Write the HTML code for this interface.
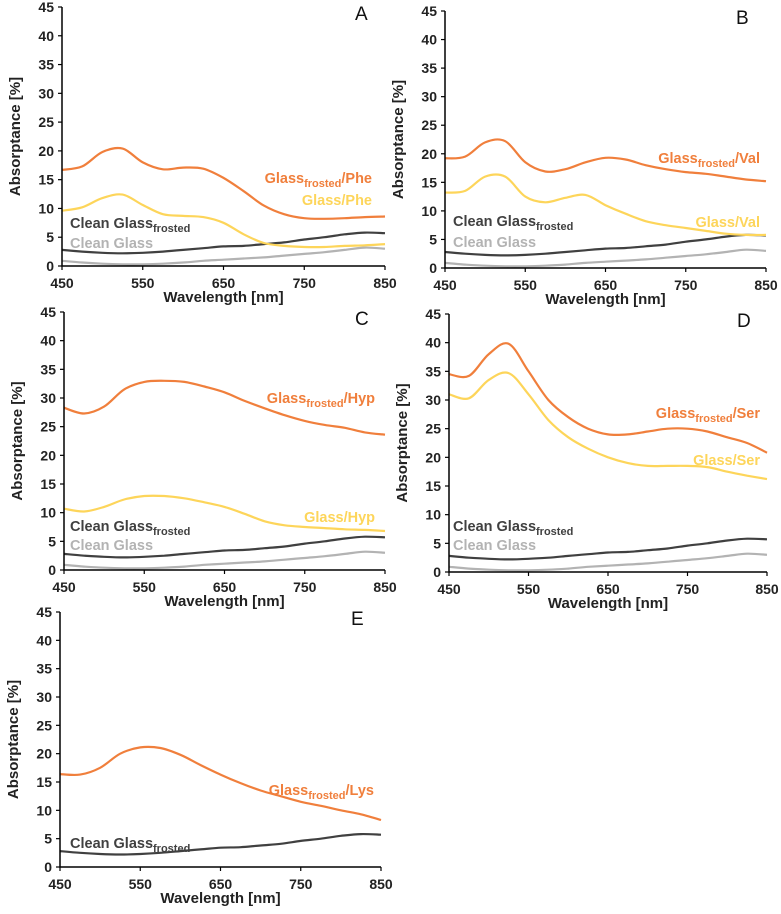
<!DOCTYPE html>
<html><head><meta charset="utf-8"><style>
html,body{margin:0;padding:0;background:#fff;}
svg{display:block;font-family:"Liberation Sans",sans-serif;}
</style></head><body>
<svg id="fig" width="781" height="914" viewBox="0 0 781 914" xmlns="http://www.w3.org/2000/svg"></svg>
<script>
const wavelengths=[450,475,500,525,550,575,600,625,650,675,700,725,750,775,800,825,850];
const xTicks=[450,550,650,750,850];
const yTicks=[0,5,10,15,20,25,30,35,40,45];
const cleanFrosted=[2.8,2.5,2.3,2.2,2.3,2.5,2.8,3.1,3.4,3.5,3.8,4.1,4.6,5.0,5.5,5.8,5.7];
const cleanGlass=[0.9,0.6,0.4,0.3,0.3,0.4,0.6,0.9,1.1,1.3,1.5,1.8,2.1,2.4,2.8,3.2,3.0];
const phFrost=[16.7,17.3,19.8,20.4,18.0,16.8,17.1,16.9,15.3,13.0,10.5,9.0,8.3,8.2,8.3,8.5,8.6];
const phGlass=[9.6,10.2,11.8,12.4,10.6,9.0,8.7,8.5,7.5,5.5,4.0,3.5,3.3,3.3,3.5,3.6,3.8];
const valFrost=[19.2,19.5,22.0,22.2,18.5,16.9,17.3,18.5,19.3,19.0,18.0,17.3,16.8,16.5,16.0,15.5,15.2];
const valGlass=[13.2,13.5,16.0,16.0,12.5,11.5,12.3,12.8,11.0,9.5,8.2,7.5,7.0,6.5,6.0,5.8,5.8];
const hypFrost=[28.3,27.3,28.5,31.5,32.8,33.0,32.8,32.0,31.0,29.5,28.2,27.0,26.0,25.3,24.8,24.0,23.6];
const hypGlass=[10.7,10.2,11.0,12.3,12.9,12.9,12.5,11.8,11.0,9.8,8.5,7.8,7.5,7.3,7.1,7.0,6.8];
const serFrost=[34.5,34.2,38.0,39.8,35.0,30.0,27.0,25.0,24.0,24.0,24.5,25.0,25.0,24.5,23.5,22.5,20.8];
const serGlass=[31.0,30.3,33.5,34.7,31.0,26.5,23.5,21.5,20.0,19.0,18.5,18.5,18.5,18.3,17.5,16.8,16.2];
const lysFrost=[16.4,16.3,17.5,20.0,21.1,21.0,19.8,18.0,16.3,14.8,13.5,12.5,11.5,10.8,10.0,9.3,8.3];

const NS="http://www.w3.org/2000/svg";
const svg=document.getElementById('fig');
function el(tag,attrs,parent){const e=document.createElementNS(NS,tag);for(const k in attrs)e.setAttribute(k,attrs[k]);(parent||svg).appendChild(e);return e;}
const ORANGE="#f07f3c",YELLOW="#fdd55a",DARK="#404040",GREY="#b3b3b3";

function smoothPath(pts){
  let d="M"+pts[0][0].toFixed(1)+","+pts[0][1].toFixed(1);
  for(let i=0;i<pts.length-1;i++){
    const p0=pts[Math.max(0,i-1)],p1=pts[i],p2=pts[i+1],p3=pts[Math.min(pts.length-1,i+2)];
    const c1=[p1[0]+(p2[0]-p0[0])/6,p1[1]+(p2[1]-p0[1])/6];
    const c2=[p2[0]-(p3[0]-p1[0])/6,p2[1]-(p3[1]-p1[1])/6];
    d+=" C"+c1[0].toFixed(1)+","+c1[1].toFixed(1)+" "+c2[0].toFixed(1)+","+c2[1].toFixed(1)+" "+p2[0].toFixed(1)+","+p2[1].toFixed(1);
  }
  return d;
}

function panel(p){
  const g=el('g',{});
  
  
  const xs=v=>p.x0+(v-450)/400*(p.x1-p.x0);
  const ys=v=>p.y0-(v/45)*(p.y0-p.y1);
  p.series.forEach(s=>{
    const pts=wavelengths.map((w,i)=>[xs(w),ys(s.values[i])]);
    const path=el('path',{d:smoothPath(pts),fill:'none',stroke:s.color,'stroke-width':2.2,'stroke-linejoin':'round'},g);
    
    
  });
  const ax=el('path',{d:`M${p.x0},${p.y1} L${p.x0},${p.y0} L${p.x1},${p.y0}`,fill:'none',stroke:'#000','stroke-width':1.5},g);
  
  
  yTicks.forEach(t=>{
    el('line',{x1:p.x0-4,x2:p.x0,y1:ys(t),y2:ys(t),stroke:'#000','stroke-width':1.2},g);
    const tx=el('text',{x:p.x0-8,y:ys(t)+5,'text-anchor':'end','font-size':14,'font-weight':'bold',fill:'#222'},g);
    tx.textContent=t;
    
    
  });
  xTicks.forEach(t=>{
    el('line',{x1:xs(t),x2:xs(t),y1:p.y0,y2:p.y0+4,stroke:'#000','stroke-width':1.2},g);
    const tx=el('text',{x:xs(t),y:p.y0+22,'text-anchor':'middle','font-size':14,'font-weight':'bold',fill:'#222'},g);
    tx.textContent=t;
    
    
  });
  const xt=el('text',{x:(p.x0+p.x1)/2,y:p.y0+36,'text-anchor':'middle','font-size':15,'font-weight':'bold',fill:'#222'},g);
  xt.textContent='Wavelength [nm]';
  
  
  const cy=(p.y0+p.y1)/2;
  const yt=el('text',{x:p.x0-42,y:cy,'text-anchor':'middle','font-size':15,'font-weight':'bold',fill:'#222',transform:`rotate(-90 ${p.x0-42} ${cy})`},g);
  yt.textContent='Absorptance [%]';
  
  
  const lt=el('text',{x:p.x1-30,y:p.y1+13,'font-size':19,fill:'#111'},g);
  lt.textContent=p.letter;
  
  
  p.labels.forEach(l=>{
    const t=el('text',{x:l.x,y:l.y,'text-anchor':l.anchor||'start','font-size':14.5,'font-weight':'bold',fill:l.color},g);
    
    
    const a=el('tspan',{},t);a.textContent=l.main;
    if(l.sub){const b=el('tspan',{dy:4,'font-size':11},t);b.textContent=l.sub;}
    if(l.tail){const c=el('tspan',{dy:-4},t);c.textContent=l.tail;}
  });
}
function cleanLabels(x,y1,y2){
  const arr=[{name:'label-clean-glass-frosted',x:x,y:y1,color:DARK,main:'Clean Glass',sub:'frosted'}];
  if(y2)arr.push({name:'label-clean-glass',x:x,y:y2,color:GREY,main:'Clean Glass'});
  return arr;
}
panel({letter:'A',x0:62,x1:385,y0:266,y1:7,
  series:[{name:'clean-glass-line',values:cleanGlass,color:GREY},{name:'clean-glass-frosted-line',values:cleanFrosted,color:DARK},{name:'glass-phe-line',values:phGlass,color:YELLOW},{name:'glass-frosted-phe-line',values:phFrost,color:ORANGE}],
  labels:[{name:'label-glass-frosted-phe',x:372,y:183,anchor:'end',color:ORANGE,main:'Glass',sub:'frosted',tail:'/Phe'},{name:'label-glass-phe',x:372,y:205,anchor:'end',color:YELLOW,main:'Glass/Phe'}].concat(cleanLabels(70,228,248))});
panel({letter:'B',x0:445,x1:766,y0:268,y1:11,
  series:[{name:'clean-glass-line',values:cleanGlass,color:GREY},{name:'clean-glass-frosted-line',values:cleanFrosted,color:DARK},{name:'glass-val-line',values:valGlass,color:YELLOW},{name:'glass-frosted-val-line',values:valFrost,color:ORANGE}],
  labels:[{name:'label-glass-frosted-val',x:760,y:163,anchor:'end',color:ORANGE,main:'Glass',sub:'frosted',tail:'/Val'},{name:'label-glass-val',x:760,y:227,anchor:'end',color:YELLOW,main:'Glass/Val'}].concat(cleanLabels(453,226,247))});
panel({letter:'C',x0:64,x1:385,y0:570,y1:312,
  series:[{name:'clean-glass-line',values:cleanGlass,color:GREY},{name:'clean-glass-frosted-line',values:cleanFrosted,color:DARK},{name:'glass-hyp-line',values:hypGlass,color:YELLOW},{name:'glass-frosted-hyp-line',values:hypFrost,color:ORANGE}],
  labels:[{name:'label-glass-frosted-hyp',x:375,y:403,anchor:'end',color:ORANGE,main:'Glass',sub:'frosted',tail:'/Hyp'},{name:'label-glass-hyp',x:375,y:522,anchor:'end',color:YELLOW,main:'Glass/Hyp'}].concat(cleanLabels(70,531,550))});
panel({letter:'D',x0:449,x1:767,y0:572,y1:314,
  series:[{name:'clean-glass-line',values:cleanGlass,color:GREY},{name:'clean-glass-frosted-line',values:cleanFrosted,color:DARK},{name:'glass-ser-line',values:serGlass,color:YELLOW},{name:'glass-frosted-ser-line',values:serFrost,color:ORANGE}],
  labels:[{name:'label-glass-frosted-ser',x:760,y:418,anchor:'end',color:ORANGE,main:'Glass',sub:'frosted',tail:'/Ser'},{name:'label-glass-ser',x:760,y:465,anchor:'end',color:YELLOW,main:'Glass/Ser'}].concat(cleanLabels(453,531,550))});
panel({letter:'E',x0:60,x1:381,y0:867,y1:612,
  series:[{name:'clean-glass-frosted-line',values:cleanFrosted,color:DARK},{name:'glass-frosted-lys-line',values:lysFrost,color:ORANGE}],
  labels:[{name:'label-glass-frosted-lys',x:374,y:795,anchor:'end',color:ORANGE,main:'Glass',sub:'frosted',tail:'/Lys'}].concat(cleanLabels(70,848,0))});
</script>
</body></html>
